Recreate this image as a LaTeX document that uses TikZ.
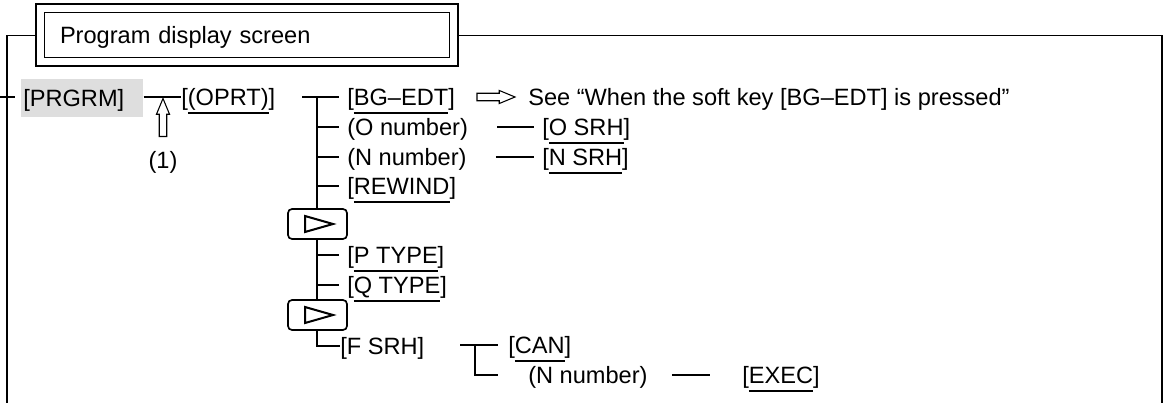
\documentclass[tikz,border=0pt]{standalone}
\usepackage{fontspec}
\setmainfont{Liberation Sans}
\usetikzlibrary{calc,fit,shapes.arrows}
\newcommand{\skey}[1]{\setbox0=\hbox{#1}\rlap{\rule[-6.75pt]{\wd0}{1.5pt}}\box0}
\tikzset{
    item/.style={anchor=west, inner sep=0pt, text height=13pt, text depth=1pt,
                 font=\fontsize{17.7pt}{20pt}\selectfont},
    link/.style={line width=1.1pt},
    tick/.style={link, shorten >=6pt},
    frame/.style={line width=1.1pt},
    keybg/.style={item, fill=black!13, text width=88.5pt, inner xsep=1.5pt,
                  minimum height=28.5pt, align=left},
    screen/.style={item, anchor=center, draw, line width=0.75pt, text width=279.75pt,
                   inner xsep=12pt, minimum height=33.75pt, align=left},
    screenbox/.style={draw, line width=1.5pt, inner sep=6pt},
    nextkey/.style={draw, fill=white, line width=1.25pt, rounded corners=3pt,
                    minimum width=44.25pt, minimum height=22.5pt},
    tri/.style={line width=1.5pt, line join=miter},
    hollow/.style={single arrow, draw, line width=0.8pt, inner xsep=0pt, inner ysep=2.4pt,
                   minimum height=28.5pt, minimum width=9pt,
                   single arrow head extend=2.1pt, single arrow tip angle=45},
}

\begin{document}
\begin{tikzpicture}[x=0.75pt, y=-0.75pt]
    \useasboundingbox (0,0) rectangle (1163,403);

    % title and outer frame
    \node[screen] (screen) at (246.5,35.5) {Program display screen};
    \node[screenbox, fit=(screen)] (box) {};
    \coordinate (fl) at (7,403);
    \coordinate (fr) at (1162,403);
    \draw[frame] (box.west) -| (fl);
    \draw[frame] (box.east) -| (fr);

    % first level
    \coordinate (stub) at (0,97);
    \node[keybg] (prgrm) at (21,98) {[PRGRM]};
    \node[item] (oprt) at (181,97) {[\skey{(OPRT)}]};
    \draw[link] (stub) -- ([xshift=-4.5pt]stub -| prgrm.west);
    \draw[link] (prgrm.east |- oprt.west) -- (oprt.west);
    \node[hollow, rotate=90] (up) at (163,122) {};
    \node[item, anchor=center] (one) at (163,160) {(1)};

    % soft keys under (OPRT)
    \node[item] (bgedt) at (347,97) {[\skey{BG–EDT}]};
    \node[item] (onum) at (347,127) {(O number)};
    \node[item] (nnum) at (347,157) {(N number)};
    \node[item] (rewind) at (347,186) {[\skey{REWIND}]};
    \node[item] (ptype) at (347,255) {[\skey{P TYPE}]};
    \node[item] (qtype) at (347,285) {[\skey{Q TYPE}]};
    \node[item] (fsrh) at (340,346) {[F SRH]};
    \coordinate (t0) at (302,97);
    \coordinate (j0) at (317,97);
    \draw[tick] (t0) -- (bgedt.west);
    \draw[link] (j0) |- (fsrh.west);
    \foreach \k in {onum,nnum,rewind,ptype,qtype}
        \draw[tick] (j0 |- \k.west) -- (\k.west);
    \node[nextkey] (nxa) at (317.5,224) {};
    \node[nextkey] (nxb) at (317.5,315) {};
    \foreach \b in {nxa,nxb}
        \draw[tri] ($(\b.center)+(-12.5,-8)$) -- ++(28,8) -- ++(-28,8) -- cycle;

    % right-hand side
    \node[hollow] (seearr) at (491.5,97) {};
    \node[item] (see) at (528,97) {See “When the soft key [BG–EDT] is pressed”};
    \node[item] (osrh) at (542,127) {[\skey{O SRH}]};
    \node[item] (nsrh) at (542,157) {[\skey{N SRH}]};
    \draw[link, shorten <=21.75pt, shorten >=6pt] (onum.east) -- (osrh.west);
    \draw[link, shorten <=21.75pt, shorten >=6pt] (nnum.east) -- (nsrh.west);

    % after [F SRH]
    \node[item] (can) at (508,345) {[\skey{CAN}]};
    \node[item] (nnumb) at (528,375) {(N number)};
    \node[item] (exec) at (742,375) {[\skey{EXEC}]};
    \coordinate (fa) at (460,345);
    \coordinate (jf) at (475,345);
    \draw[link, shorten >=7.5pt] (fa) -- (can.west);
    \draw[link, shorten >=22.5pt] (jf) |- (nnumb.west);
    \draw[link, shorten <=18pt, shorten >=24pt] (nnumb.east) -- (exec.west);

\end{tikzpicture}
\end{document}
